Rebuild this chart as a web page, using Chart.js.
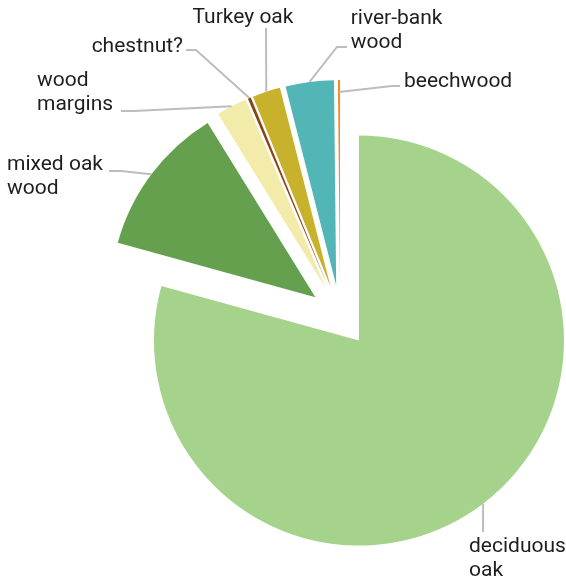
<!DOCTYPE html>
<html><head><meta charset="utf-8">
<script src="https://cdn.jsdelivr.net/npm/chart.js@4.4.1/dist/chart.umd.min.js"></script>
<style>html,body{margin:0;padding:0;background:#fff;}canvas{display:block;}</style>
</head><body>
<canvas id="c" width="566" height="582"></canvas>
<script>
// ---- data ----
const categories = ['deciduous oak','mixed oak wood','wood margins','chestnut?','Turkey oak','river-bank wood','beechwood'];
const shares = [79.3, 11.9, 2.4, 0.24, 2.2, 3.8, 0.17];
const labelLines = [['deciduous','oak'],['mixed oak','wood'],['wood','margins'],['chestnut?'],['Turkey oak'],['river-bank','wood'],['beechwood']];

// ---- styles / layout ----
const sliceColors = ['#a6d38b','#65a04f','#f3ebaa','#8b4513','#c8b22c','#52b6b6','#f38c28'];
const EXPLODE = 31;
const RADIUS = 205;
const FONT = '21px Roboto';
const LINE_H = 24;
const labelLayout = [
  {inset:0,  path:[[483,532]],            x:469,   y:552,  align:'left'},
  {inset:0,  path:[[121,171],[109,171]],  x:7,     y:169.5,align:'left'},
  {inset:0,  path:[[134,111],[121,111]],  x:37,    y:86,   align:'left'},
  {inset:0,  path:[[196,50],[186,50]],    x:183,   y:52,   align:'right'},
  {inset:0,  path:[[266,28]],             x:243,   y:22.7, align:'center'},
  {inset:0,  path:[[337,47],[347,47]],    x:350.7, y:24,   align:'left'},
  {inset:12, path:[[392,86],[400,86]],    x:404,   y:86.5, align:'left'}
];

const explodePlugin = {
  id: 'explodeSlices',
  afterDatasetUpdate(chart, args) {
    args.meta.data.forEach(arc => {
      const mid = (arc.startAngle + arc.endAngle) / 2;
      arc.x += EXPLODE * Math.cos(mid);
      arc.y += EXPLODE * Math.sin(mid);
    });
  }
};

const labelPlugin = {
  id: 'outerLabels',
  afterDatasetsDraw(chart) {
    const ctx = chart.ctx;
    const meta = chart.getDatasetMeta(0);
    ctx.save();
    meta.data.forEach((arc, i) => {
      const L = labelLayout[i];
      const mid = (arc.startAngle + arc.endAngle) / 2;
      const r = arc.outerRadius - L.inset;
      const ax = arc.x + r * Math.cos(mid);
      const ay = arc.y + r * Math.sin(mid);
      ctx.beginPath();
      ctx.moveTo(ax, ay);
      L.path.forEach(p => ctx.lineTo(p[0], p[1]));
      ctx.strokeStyle = '#bdbdbd';
      ctx.lineWidth = 2;
      ctx.stroke();
      ctx.fillStyle = '#1e1e1e';
      ctx.font = FONT;
      ctx.textAlign = L.align;
      ctx.textBaseline = 'alphabetic';
      labelLines[i].forEach((t, k) => ctx.fillText(t, L.x, L.y + k * LINE_H));
    });
    ctx.restore();
  }
};

new Chart(document.getElementById('c'), {
  type: 'pie',
  data: {
    labels: categories,
    datasets: [{
      data: shares,
      backgroundColor: sliceColors,
      borderWidth: 0,
      radius: RADIUS,
      clip: false
    }]
  },
  options: {
    responsive: false,
    animation: false,
    events: [],
    layout: {padding: {left: 114.4, right: 0, top: 49.8, bottom: 0}},
    plugins: {legend: {display: false}, tooltip: {enabled: false}}
  },
  plugins: [explodePlugin, labelPlugin]
});
</script>
</body></html>
